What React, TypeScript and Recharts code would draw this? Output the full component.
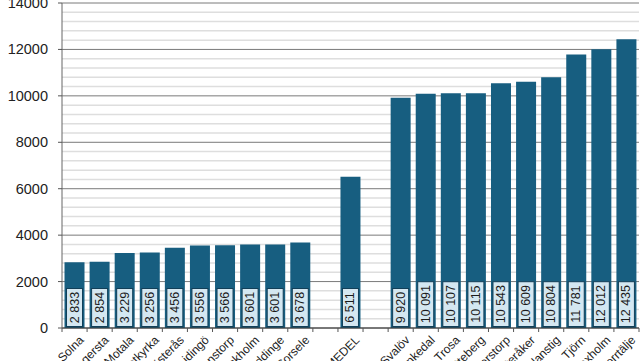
import React from 'react';
import { BarChart, Bar, XAxis, YAxis, CartesianGrid, LabelList } from 'recharts';

// kommuner, sorted low -> high, with the average in the middle
const categories = [
  'Solna', 'Hagersta', 'Motala', 'Botkyrka', 'Västerås', 'Lidingö', 'Staffanstorp',
  'Stockholm', 'Huddinge', 'Sorsele', '', 'MEDEL', '', 'Svalöv', 'Munkedal', 'Trosa',
  'Götteberg', 'Perstorp', 'Österåker', 'Nordanstig', 'Tjörn', 'Vaxholm', 'Norrtälje',
];
const values = [
  2833, 2854, 3229, 3256, 3456, 3556, 3566, 3601, 3601, 3678, null, 6511, null,
  9920, 10091, 10107, 10115, 10543, 10609, 10804, 11781, 12012, 12435,
];
const yTicks = [0, 2000, 4000, 6000, 8000, 10000, 12000, 14000];
const minorStep = 400;

const data = categories.map((name, i) => ({ name, value: values[i] }));
const minorLines: number[] = [];
for (let v = minorStep; v < 14000; v += minorStep) {
  if (v % 2000 !== 0) minorLines.push(v);
}

const BAR = '#175e80';
const FONT = '"Liberation Sans", Arial, sans-serif';
const SLOT = 577 / categories.length;

const fmt = (v: number) => String(v).replace(/\B(?=(\d{3})+(?!\d))/g, ' ');

function ValueBox(props: any) {
  const { x, y, width, height, value } = props;
  if (value == null) return null;
  const text = fmt(value);
  const boxH = text.length * 6.8 + 4;
  const boxW = 16;
  const cx = x + width / 2;
  const bottom = y + height - 1.5;
  const cy = bottom - boxH / 2;
  return (
    <g>
      <rect x={cx - boxW / 2} y={bottom - boxH} width={boxW} height={boxH} fill="#d4e7f1" stroke="#123f58" strokeWidth={1} />
      <text
        x={cx}
        y={cy}
        transform={`rotate(-90 ${cx} ${cy})`}
        textAnchor="middle"
        dominantBaseline="central"
        fontSize={12.5}
        fontFamily={FONT}
        fill="#1b1b1b"
      >
        {text}
      </text>
    </g>
  );
}

function CategoryTick(props: any) {
  const { x, y, payload, index } = props;
  const last = index === categories.length - 1;
  return (
    <g>
      <line x1={x - SLOT / 2} y1={y - 8} x2={x - SLOT / 2} y2={y - 4} stroke="#555" />
      {last && <line x1={x + SLOT / 2} y1={y - 8} x2={x + SLOT / 2} y2={y - 4} stroke="#555" />}
      <text
        x={0}
        y={0}
        transform={`translate(${x + 7} ${y + 2}) rotate(-45)`}
        textAnchor="end"
        dominantBaseline="central"
        fontSize={12}
        fontFamily={FONT}
        fill="#222"
      >
        {payload.value}
      </text>
    </g>
  );
}

function ValueTick(props: any) {
  const { x, y, payload } = props;
  return (
    <text
      x={x}
      y={y}
      textAnchor="end"
      dominantBaseline="central"
      fontSize={14.5}
      fontFamily={FONT}
      fill="#222"
    >
      {payload.value}
    </text>
  );
}

export default function App() {
  return (
    <div style={{ position: 'absolute', left: 0, top: 0, width: 643, height: 361, background: '#fff' }}>
      <BarChart
        width={643}
        height={361}
        data={data}
        margin={{ top: 3, right: 4, left: 0, bottom: 0 }}
        barCategoryGap="10%"
      >
        <CartesianGrid horizontalValues={minorLines} vertical={false} stroke="#dedede" strokeWidth={1.5} />
        <CartesianGrid horizontalValues={yTicks} vertical={false} stroke="#7a7a7a" />
        <XAxis
          dataKey="name"
          interval={0}
          height={33}
          tick={<CategoryTick />}
          tickLine={false}
          axisLine={{ stroke: '#333' }}
        />
        <YAxis
          width={62}
          domain={[0, 14000]}
          ticks={yTicks}
          interval={0}
          tickSize={4}
          tickMargin={10}
          tickLine={{ stroke: '#555' }}
          axisLine={{ stroke: '#666' }}
          tick={<ValueTick />}
        />
        <Bar dataKey="value" fill={BAR} isAnimationActive={false}>
          <LabelList dataKey="value" content={<ValueBox />} />
        </Bar>
      </BarChart>
    </div>
  );
}
